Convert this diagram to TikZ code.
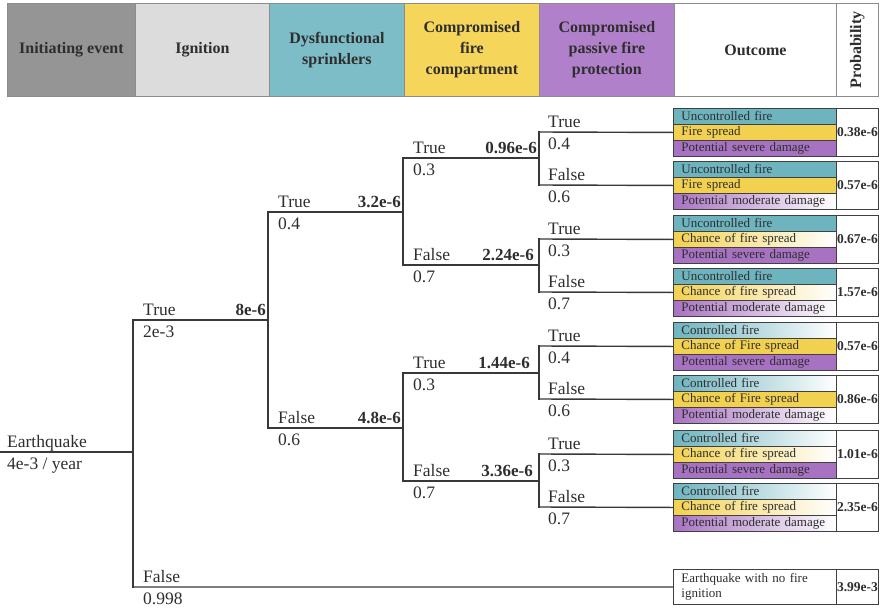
\documentclass[tikz,border=0pt]{standalone}
\usepackage{fontspec}
\setmainfont{Liberation Serif}
\definecolor{cgray}{HTML}{959595}
\definecolor{clgray}{HTML}{DCDCDC}
\definecolor{cteal}{HTML}{7DBDC7}
\definecolor{cyellow}{HTML}{F6D55B}
\definecolor{cpurple}{HTML}{B180CB}
\definecolor{rteal}{HTML}{6EB4BF}
\definecolor{ryellow}{HTML}{F3D150}
\definecolor{rpurple}{HTML}{A872C2}
\definecolor{ink}{HTML}{2E2E2E}
\newcommand\outbox[9]{%
  \node[row,#3] (b#1a) at (673,#2) {#4};
  \node[row,#5] (b#1b) at (673,#2+16) {#6};
  \node[row,#7] (b#1c) at (673,#2+32) {#8};
  \node[pcell] (p#1) at (836,#2) {#9};
}
\newcommand\brlab[5]{%
  \node[lab] (#1t) at (#2,#3-5) {#4};
  \node[lab] (#1b) at (#2,#3+17) {#5};
}
\begin{document}
\begin{tikzpicture}[x=1pt,y=-1pt,
  line/.style={draw=black!78, line width=1.4pt, line cap=rect},
  lab/.style={anchor=base west, inner sep=0pt, font=\fontsize{17.5}{20}\selectfont, text=ink},
  val/.style={anchor=base east, inner sep=0pt, font=\bfseries\fontsize{17}{20}\selectfont, text=ink},
  hdr/.style={draw=black!45, line width=0.8pt, minimum height=93pt, inner sep=0pt, align=center, anchor=north west, font=\bfseries\fontsize{16}{21}\selectfont, text=ink},
  row/.style={draw=black!75, line width=0.9pt, minimum width=163pt, minimum height=16pt, inner xsep=8pt, inner ysep=0pt, text width=147pt, align=left, anchor=north west, font=\fontsize{13}{15}\selectfont, text=ink},
  pcell/.style={draw=black!75, line width=0.9pt, fill=white, minimum width=42pt, minimum height=48pt, inner sep=0pt, anchor=north west, font=\bfseries\fontsize{13.5}{15}\selectfont, text=ink},
  ts/.style={fill=rteal}, tg/.style={left color=rteal, right color=white},
  ys/.style={fill=ryellow}, yg/.style={left color=ryellow, right color=white},
  ps/.style={fill=rpurple}, pg/.style={left color=rpurple, right color=white}
]
\useasboundingbox (0,0) rectangle (882,608);
% header
\node[hdr, fill=cgray, minimum width=128pt] (h1) at (7,3) {Initiating event};
\node[hdr, fill=clgray, minimum width=134pt] (h2) at (135,3) {Ignition};
\node[hdr, fill=cteal, minimum width=135pt] (h3) at (269,3) {Dysfunctional\\sprinklers};
\node[hdr, fill=cyellow, minimum width=135pt] (h4) at (404,3) {Compromised\\fire\\compartment};
\node[hdr, fill=cpurple, minimum width=135pt] (h5) at (539,3) {Compromised\\passive fire\\protection};
\node[hdr, fill=white, minimum width=162pt] (h6) at (674,3) {Outcome};
\node[hdr, fill=white, minimum width=42pt] (h7) at (836,3) {};
\node[rotate=90, inner sep=0pt, font=\bfseries\fontsize{16}{21}\selectfont, text=ink] (h7t) at (h7.center) {Probability};
% outcome boxes
\outbox{1}{108}{ts}{Uncontrolled fire}{ys}{Fire spread}{ps}{Potential severe damage}{0.38e-6}
\outbox{2}{161}{ts}{Uncontrolled fire}{ys}{Fire spread}{pg}{Potential moderate damage}{0.57e-6}
\outbox{3}{215}{ts}{Uncontrolled fire}{yg}{Chance of fire spread}{ps}{Potential severe damage}{0.67e-6}
\outbox{4}{268}{ts}{Uncontrolled fire}{yg}{Chance of fire spread}{pg}{Potential moderate damage}{1.57e-6}
\outbox{5}{322}{tg}{Controlled fire}{ys}{Chance of Fire spread}{ps}{Potential severe damage}{0.57e-6}
\outbox{6}{375}{tg}{Controlled fire}{ys}{Chance of Fire spread}{pg}{Potential moderate damage}{0.86e-6}
\outbox{7}{430}{tg}{Controlled fire}{yg}{Chance of fire spread}{ps}{Potential severe damage}{1.01e-6}
\outbox{8}{483}{tg}{Controlled fire}{yg}{Chance of fire spread}{pg}{Potential moderate damage}{2.35e-6}
\node[row, fill=white, minimum height=35pt] (b9) at (673,569) {Earthquake with no fire\\ignition};
\node[pcell, minimum height=35pt] (p9) at (836,569) {3.99e-3};
% tree coordinates
\coordinate (s0) at (0,452);
\coordinate (j0) at (133,452);
\coordinate (j0t) at (133,320); \coordinate (j0f) at (133,587);
\coordinate (j1) at (268,320); \coordinate (j1t) at (268,212); \coordinate (j1f) at (268,428);
\coordinate (j2a) at (403,212); \coordinate (j2at) at (403,158); \coordinate (j2af) at (403,265);
\coordinate (j2b) at (403,428); \coordinate (j2bt) at (403,373); \coordinate (j2bf) at (403,481);
\coordinate (j3a) at (539,158); \coordinate (j3at) at (539,132); \coordinate (j3af) at (539,185);
\coordinate (j3b) at (539,265); \coordinate (j3bt) at (539,239); \coordinate (j3bf) at (539,292);
\coordinate (j3c) at (539,373); \coordinate (j3ct) at (539,346); \coordinate (j3cf) at (539,399);
\coordinate (j3d) at (539,481); \coordinate (j3dt) at (539,454); \coordinate (j3df) at (539,507);
% tree lines
\draw[line] (s0) -- (j0);
\draw[line] (j0t) -- (j0f);
\draw[line] (j0t) -- (j1);
\draw[line] (j0f) -- (b9.west);
\draw[line] (j1t) -- (j1f);
\draw[line] (j1t) -- (j2a);
\draw[line] (j1f) -- (j2b);
\draw[line] (j2at) -- (j2af);
\draw[line] (j2at) -- (j3a);
\draw[line] (j2af) -- (j3b);
\draw[line] (j2bt) -- (j2bf);
\draw[line] (j2bt) -- (j3c);
\draw[line] (j2bf) -- (j3d);
\draw[line] (j3at) -- (j3af);
\draw[line] (j3bt) -- (j3bf);
\draw[line] (j3ct) -- (j3cf);
\draw[line] (j3dt) -- (j3df);
\draw[line] (j3at) -- (b1b.west);
\draw[line] (j3af) -- (b2b.west);
\draw[line] (j3bt) -- (b3b.west);
\draw[line] (j3bf) -- (b4b.west);
\draw[line] (j3ct) -- (b5b.west);
\draw[line] (j3cf) -- (b6b.west);
\draw[line] (j3dt) -- (b7b.west);
\draw[line] (j3df) -- (b8b.west);
% labels
\brlab{e0}{7}{452}{Earthquake}{4e-3 / year}
\brlab{l1t}{143}{320}{True}{2e-3}
\brlab{l1f}{143}{587}{False}{0.998}
\brlab{l2t}{278}{212}{True}{0.4}
\brlab{l2f}{278}{428}{False}{0.6}
\brlab{l3a}{413}{158}{True}{0.3}
\brlab{l3b}{413}{265}{False}{0.7}
\brlab{l3c}{413}{373}{True}{0.3}
\brlab{l3d}{413}{481}{False}{0.7}
\brlab{l4a}{548}{132}{True}{0.4}
\brlab{l4b}{548}{185}{False}{0.6}
\brlab{l4c}{548}{239}{True}{0.3}
\brlab{l4d}{548}{292}{False}{0.7}
\brlab{l4e}{548}{346}{True}{0.4}
\brlab{l4f}{548}{399}{False}{0.6}
\brlab{l4g}{548}{454}{True}{0.3}
\brlab{l4h}{548}{507}{False}{0.7}
% values
\node[val] (v1) at (266,315) {8e-6};
\node[val] (v2) at (401,207) {3.2e-6};
\node[val] (v3) at (401,423) {4.8e-6};
\node[val] (v4) at (537,153) {0.96e-6};
\node[val] (v5) at (534,260) {2.24e-6};
\node[val] (v6) at (530,368) {1.44e-6};
\node[val] (v7) at (533,476) {3.36e-6};
\end{tikzpicture}
\end{document}
